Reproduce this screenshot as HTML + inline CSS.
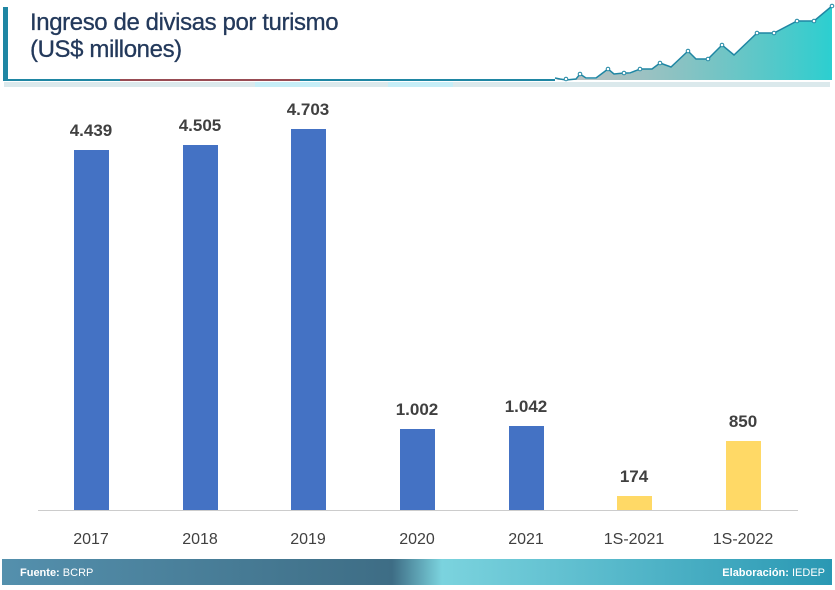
<!DOCTYPE html>
<html><head><meta charset="utf-8"><style>
body{margin:0;width:835px;height:590px;background:#fff;overflow:hidden;position:relative;font-family:"Liberation Sans",sans-serif}
.t{position:absolute;left:30px;top:9px;font-size:24px;line-height:27px;color:#23395b;letter-spacing:-0.4px;-webkit-text-stroke:0.3px #23395b}
</style></head><body>
<svg width="835" height="590" style="position:absolute;left:0;top:0">
<defs>
<linearGradient id="f" x1="0" x2="1"><stop offset="0" stop-color="#5490ad"/><stop offset="0.47" stop-color="#3e6d85"/><stop offset="0.53" stop-color="#7bd3de"/><stop offset="1" stop-color="#2a98b3"/></linearGradient>
<linearGradient id="a" x1="0" x2="1"><stop offset="0" stop-color="#999" stop-opacity="0.6"/><stop offset="1" stop-color="#2ccfd0"/></linearGradient>
</defs>
<rect x="3" y="7" width="5" height="74" fill="#1f86a3"/>
<rect x="4" y="82" width="826" height="5" fill="#dbe9ec"/>
<rect x="255" y="82" width="65" height="5" fill="#c6eef7"/>
<rect x="388" y="82" width="65" height="5" fill="#c6eef7"/>
<line x1="4" y1="80" x2="555" y2="80" stroke="#1f86a3" stroke-width="2"/>
<line x1="120" y1="80" x2="300" y2="80" stroke="#c0393b" stroke-width="1.5"/>
<path d="M555 80 L560 79 L566 80 L576 79 L580 74 L586 79 L596 79 L608 69 L614 74 L624 73 L630 74 L640 69 L652 69 L660 63 L671 67 L688 51 L696 59 L708 59 L722 45 L734 55 L757 33 L774 33 L797 21 L814 21 L832 6 L832 80 Z" fill="url(#a)"/>
<polyline points="555,78 560,79 566,80 576,79 580,74 586,78 596,78 608,69 614,74 624,73 630,73 640,69 652,69 660,63 671,67 688,51 696,59 708,59 722,45 734,55 757,33 774,33 797,21 814,21 832,6" fill="none" stroke="#1f86a3" stroke-width="1.5"/>
<g fill="#fff" stroke="#1f86a3" stroke-width="1"><circle cx="566" cy="79" r="1.8"/><circle cx="580" cy="74" r="1.8"/><circle cx="608" cy="69" r="1.8"/><circle cx="624" cy="73" r="1.8"/><circle cx="640" cy="69" r="1.8"/><circle cx="660" cy="63" r="1.8"/><circle cx="688" cy="51" r="1.8"/><circle cx="708" cy="59" r="1.8"/><circle cx="722" cy="45" r="1.8"/><circle cx="757" cy="33" r="1.8"/><circle cx="774" cy="33" r="1.8"/><circle cx="797" cy="21" r="1.8"/><circle cx="814" cy="21" r="1.8"/><circle cx="832" cy="6" r="1.8"/></g>
<line x1="38" y1="510.5" x2="798" y2="510.5" stroke="#ccc"/>
<g fill="#4472c4"><rect x="74" y="150" width="35" height="360"/><rect x="183" y="145" width="35" height="365"/><rect x="291" y="129" width="35" height="381"/><rect x="400" y="429" width="35" height="81"/><rect x="509" y="426" width="35" height="84"/></g>
<g fill="#ffd966"><rect x="617" y="496" width="35" height="14"/><rect x="726" y="441" width="35" height="69"/></g>
<g font-family="Liberation Sans,sans-serif" font-size="17" font-weight="bold" fill="#404040" text-anchor="middle">
<text x="91" y="136">4.439</text><text x="200" y="131">4.505</text><text x="308" y="115">4.703</text><text x="417" y="415">1.002</text><text x="526" y="412">1.042</text><text x="634" y="482">174</text><text x="743" y="427">850</text></g>
<g font-family="Liberation Sans,sans-serif" font-size="16" fill="#404040" text-anchor="middle">
<text x="91" y="544">2017</text><text x="200" y="544">2018</text><text x="308" y="544">2019</text><text x="417" y="544">2020</text><text x="526" y="544">2021</text><text x="634" y="544">1S-2021</text><text x="743" y="544">1S-2022</text></g>
<rect x="2" y="559" width="830" height="26" fill="url(#f)"/>
<g font-family="Liberation Sans,sans-serif" font-size="11" fill="#fff"><text x="20" y="576"><tspan font-weight="bold">Fuente:</tspan> BCRP</text><text x="825" y="576" text-anchor="end"><tspan font-weight="bold">Elaboración:</tspan> IEDEP</text></g>
</svg>
<div class="t">Ingreso de divisas por turismo<br>(US$ millones)</div>
</body></html>
